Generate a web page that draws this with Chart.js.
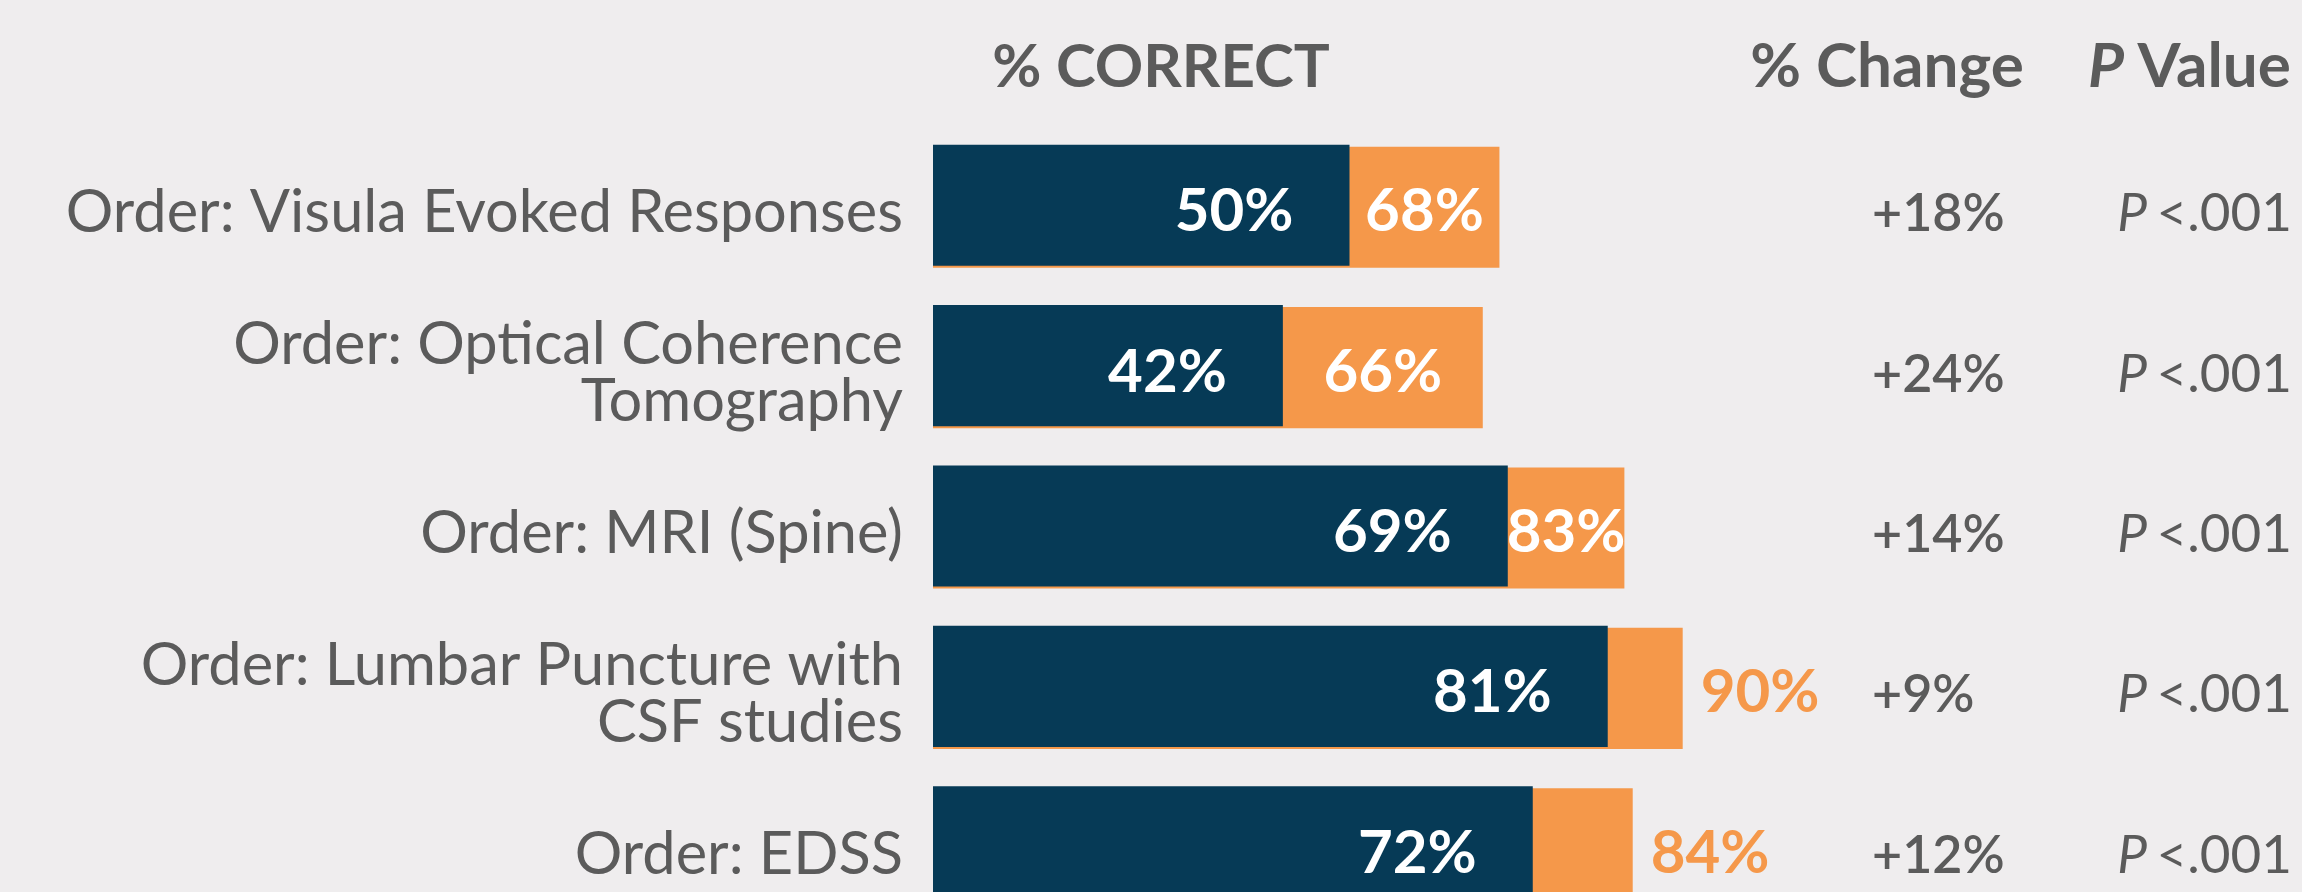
<!DOCTYPE html>
<html><head><meta charset="utf-8">
<script src="https://cdn.jsdelivr.net/npm/chart.js@4.4.1/dist/chart.umd.min.js"></script>
<style>
html,body{margin:0;padding:0;background:#efedee;overflow:hidden;width:2302px;height:892px;}
#wrap{position:relative;width:2302px;height:1000px;}
</style></head><body>
<div id="wrap"><canvas id="c" width="2302" height="1000"></canvas></div>
<script>
const categories = [
  ["Order: Visula Evoked Responses"],
  ["Order: Optical Coherence", "Tomography"],
  ["Order: MRI (Spine)"],
  ["Order: Lumbar Puncture with", "CSF studies"],
  ["Order: EDSS"]
];
const baselineCorrect = [50, 42, 69, 81, 72];
const followupCorrect = [68, 66, 83, 90, 84];
const pctChange = ["+18%", "+24%", "+14%", "+9%", "+12%"];
const pValues = ["<.001", "<.001", "<.001", "<.001", "<.001"];
const headerCorrect = "% CORRECT";
const headerChange = "% Change";
const headerP = "Value";

const NAVY = '#063a56';
const ORANGE = '#f5984a';
const GRAY = '#5b5b5b';
const FONT = 'Lato';

const shiftPlugin = {
  id: 'shift',
  beforeDatasetDraw(chart, args) {
    if (args.index === 1) { chart.ctx.save(); chart.ctx.translate(0, 2); }
  },
  afterDatasetDraw(chart, args) {
    if (args.index === 1) { chart.ctx.restore(); }
  }
};

const annotations = {
  id: 'annotations',
  afterDatasetsDraw(chart) {
    const ctx = chart.ctx;
    const xs = chart.scales.x, ys = chart.scales.y;
    const area = chart.chartArea;
    ctx.save();
    // headers
    ctx.fillStyle = GRAY;
    ctx.textBaseline = 'alphabetic';
    ctx.font = 'bold 60px ' + FONT;
    ctx.textAlign = 'center';
    ctx.fillText(headerCorrect, area.left + 228, 87);
    ctx.font = 'bold 62px ' + FONT;
    ctx.fillText(headerChange, area.right + 121, 87);
    ctx.textAlign = 'left';
    ctx.font = 'italic bold 62px ' + FONT;
    const px = area.right + 322;
    ctx.fillText('P', px, 87);
    const pw = ctx.measureText('P ').width;
    ctx.font = 'bold 62px ' + FONT;
    ctx.fillText(headerP, px + pw, 87);

    categories.forEach((c, i) => {
      const yc = ys.getPixelForValue(i) + 26;
      const xb = xs.getPixelForValue(baselineCorrect[i]);
      const xf = xs.getPixelForValue(followupCorrect[i]);
      ctx.font = 'bold 60px ' + FONT;
      ctx.fillStyle = '#ffffff';
      ctx.textAlign = 'right';
      ctx.fillText(baselineCorrect[i] + '%', xb - 56, yc);
      if (followupCorrect[i] - baselineCorrect[i] >= 13) {
        ctx.textAlign = 'center';
        ctx.fillText(followupCorrect[i] + '%', (xb + xf) / 2, yc);
      } else {
        ctx.fillStyle = ORANGE;
        ctx.textAlign = 'left';
        ctx.fillText(followupCorrect[i] + '%', xf + 18, yc);
      }
      ctx.fillStyle = GRAY;
      ctx.font = '600 52px ' + FONT;
      ctx.textAlign = 'left';
      ctx.fillText(pctChange[i], area.right + 106, yc);
      // p value, right aligned
      ctx.font = '400 53px ' + FONT;
      const rest = ' ' + pValues[i];
      const rw = ctx.measureText(rest).width;
      const right = area.right + 526;
      ctx.textAlign = 'right';
      ctx.fillText(rest, right, yc);
      ctx.font = 'italic 400 53px ' + FONT;
      ctx.fillText('P', right - rw + 4, yc);
    });
    ctx.restore();
  }
};

new Chart(document.getElementById('c'), {
  type: 'bar',
  data: {
    labels: categories,
    datasets: [
      { label: 'Pre', data: baselineCorrect, backgroundColor: NAVY, grouped: false },
      { label: 'Post', data: followupCorrect, backgroundColor: ORANGE, grouped: false }
    ]
  },
  options: {
    indexAxis: 'y',
    responsive: false,
    animation: false,
    devicePixelRatio: 1,
    categoryPercentage: 1,
    barPercentage: 0.755,
    layout: { padding: { top: 125, right: 536, bottom: 73, left: 0 } },
    plugins: { legend: { display: false }, tooltip: { enabled: false }, title: { display: false } },
    scales: {
      x: { display: false, min: 0, max: 100 },
      y: {
        grid: { display: false, drawTicks: false },
        border: { display: false },
        ticks: {
          color: GRAY,
          padding: 30,
          labelOffset: 8,
          font: { family: FONT, size: 59.5, weight: '400', lineHeight: 0.96 }
        },
        afterFit(scale) { scale.width = 933; }
      }
    }
  },
  plugins: [shiftPlugin, annotations]
});
</script>
</body></html>
